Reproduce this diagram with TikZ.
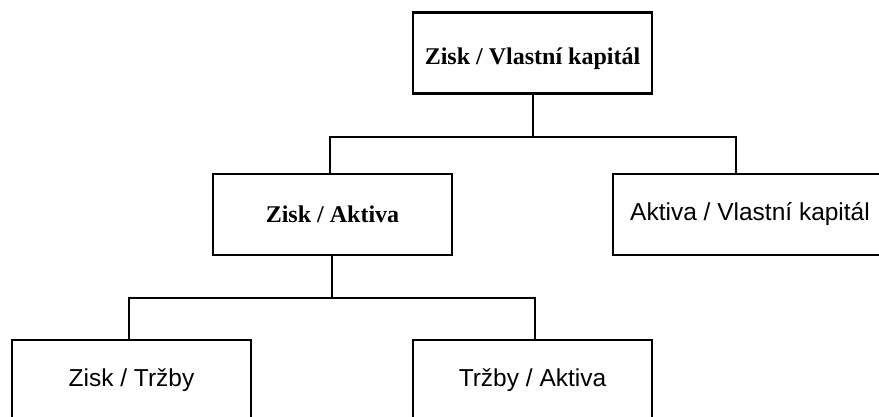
\documentclass[tikz,border=0pt]{standalone}
\usepackage{fontspec}
\setmainfont{Liberation Serif}
\newfontfamily\boxsans{Liberation Sans}
\begin{document}
\begin{tikzpicture}[x=1pt,y=-1pt,
  box/.style={draw=black, line width=2.8pt, fill=white, inner sep=0pt, minimum height=81pt},
  serifbox/.style={box, font=\fontsize{24}{28}\selectfont\bfseries},
  sansbox/.style={box, font=\boxsans\fontsize{24.5}{28}\selectfont},
  conn/.style={draw=black, line width=2.4pt, line cap=rect}]
\clip (0,0) rectangle (879,416);
\fill[white] (0,0) rectangle (879,416);
% boxes
\node[serifbox, minimum width=239pt, text height=27pt, text depth=5pt] (top) at (532.5,53) {Zisk / Vlastní kapitál};
\node[serifbox, minimum width=239pt] (za) at (332.5,214.5) {Zisk / Aktiva};
\node[sansbox, minimum width=274pt] (avk) at (750,214.5) {Aktiva / Vlastní kapitál};
\node[sansbox, minimum width=239pt] (zt) at (131.5,380.5) {Zisk / Tržby};
\node[sansbox, minimum width=239pt] (ta) at (532.5,380.5) {Tržby / Aktiva};
% connectors
\coordinate (j1) at (533,137);
\coordinate (j1l) at (330,137);
\coordinate (j1r) at (736,137);
\coordinate (j2) at (332,298);
\coordinate (j2l) at (129,298);
\coordinate (j2r) at (535,298);
\draw[conn] (top.south -| j1) -- (j1);
\draw[conn] (j1l) -- (j1r);
\draw[conn] (j1l) -- (j1l |- za.north);
\draw[conn] (j1r) -- (j1r |- avk.north);
\draw[conn] (za.south -| j2) -- (j2);
\draw[conn] (j2l) -- (j2r);
\draw[conn] (j2l) -- (j2l |- zt.north);
\draw[conn] (j2r) -- (j2r |- ta.north);
\end{tikzpicture}
\end{document}
